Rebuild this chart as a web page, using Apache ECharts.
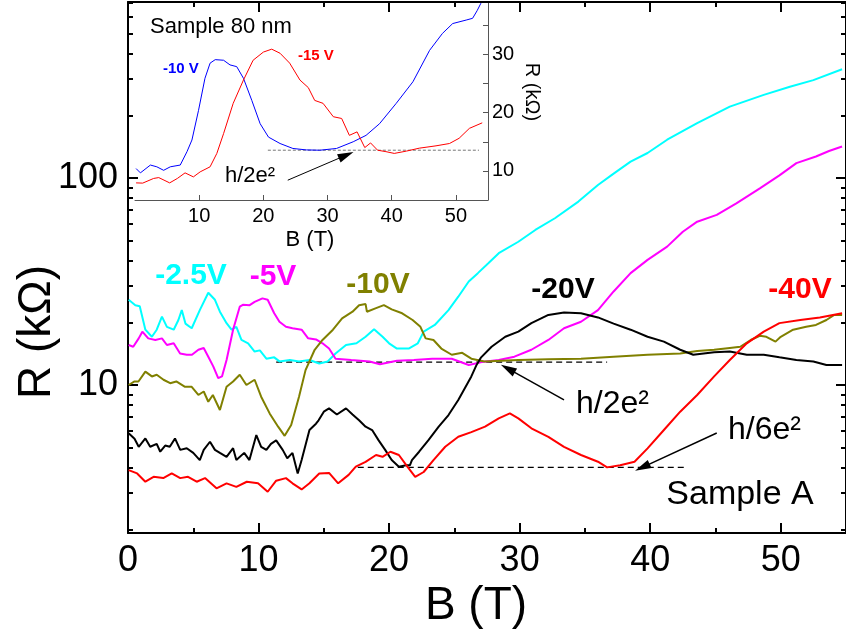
<!DOCTYPE html>
<html><head><meta charset="utf-8">
<script src="https://cdn.jsdelivr.net/npm/echarts@6/dist/echarts.min.js"></script>
<style>html,body{margin:0;padding:0;background:#fff}#c{width:846px;height:638px}</style>
</head><body><div id="c"></div>
<script>
// ---------- main panel (Sample A), B in T, R in kOhm ----------
const cyanData = [[0.05,25.8],[0.56,24.3],[0.9,24],[1.33,18.5],[1.83,17.1],[2.2,18.5],[2.6,21.4],[2.98,19.1],[3.5,18.5],[3.86,20.6],[4.12,23.0],[4.4,19.8],[4.88,18.8],[5.5,23.0],[6.15,27.9],[6.66,25.8],[7.04,22.6],[7.55,19.9],[7.93,18.5],[8.3,19.1],[8.69,16.5],[9.2,15.9],[9.7,14.5],[10.1,14.7],[10.6,13.4],[11.2,13.6],[11.6,13.0],[12.4,13.2],[13.1,13.0],[13.9,13.2],[14.65,12.7],[15.3,13.0],[15.9,14.2],[16.7,15.6],[17.5,15.9],[18.2,17.1],[18.85,18.6],[19.5,17.1],[20.0,15.9],[20.6,15.0],[21.5,15.0],[22.2,15.9],[22.65,18.1],[23.5,19.5],[24.55,23.0],[25.3,26.7],[26.1,31.6],[26.8,34.7],[27.6,38.7],[28.4,43.3],[29.9,49.2],[31.2,56.1],[32.7,63.9],[34.5,76.9],[36.0,92.5],[37.2,105],[38.5,120],[39.8,132],[41.3,153],[43.6,184],[46.1,221],[48.7,252],[50.7,276],[52.5,297],[54.7,335]];
const magentaData = [[0.05,15.6],[0.4,15.3],[0.82,16.8],[1.1,18.1],[1.55,16.8],[2.09,16.5],[2.6,16.8],[2.98,15.6],[3.5,15.9],[3.99,14.2],[4.5,14.0],[4.9,14.0],[5.39,14.8],[5.8,15.1],[6.15,13.7],[6.53,12.3],[6.91,10.8],[7.2,11.0],[7.55,13.2],[8.05,18.5],[8.56,23.9],[8.8,24.4],[9.32,24.3],[9.7,25.2],[10.3,26.2],[10.7,25.8],[11.2,22.2],[11.6,20.2],[12.1,19.1],[12.6,18.8],[13.3,18.5],[13.8,16.8],[14.4,16.6],[14.9,15.9],[15.4,15.0],[15.9,13.4],[17.1,13.2],[18.5,13.0],[19.3,12.6],[20.6,13.1],[21.9,13.2],[23.3,13.4],[24.8,13.4],[26.1,12.5],[27.1,12.9],[28.4,13.2],[29.6,13.7],[30.9,14.8],[32.2,16.5],[33.4,18.8],[34.7,20.2],[36.0,23.0],[37.2,28.3],[38.5,34.7],[39.8,40.2],[41.3,46.6],[42.5,55],[43.6,61.5],[45.1,66.3],[46.6,75.4],[48.4,89.1],[49.9,103],[51.2,118],[52.7,127],[53.7,135],[54.7,142]];
const oliveData = [[0.05,10.0],[0.5,10.4],[0.8,10.4],[1.33,11.6],[1.83,11.0],[2.2,11.2],[2.72,10.6],[3.23,10.2],[3.7,10.4],[4.37,9.8],[4.88,9.8],[5.39,8.95],[5.8,9.3],[6.15,8.3],[6.5,8.95],[7.04,7.57],[7.55,9.8],[8.05,10.4],[8.56,11.2],[9.07,10.0],[9.7,10.6],[10.2,8.78],[10.85,7.29],[11.5,6.29],[12.0,5.68],[12.5,6.41],[13.1,8.78],[13.6,11.8],[14.3,14.8],[14.9,16.5],[15.7,18.5],[16.4,21.0],[17.2,22.6],[17.7,24.3],[18.2,24.6],[18.3,22.6],[19.0,23.5],[19.6,24.3],[20.2,23.2],[21.0,22.2],[21.8,20.6],[22.4,19.1],[22.8,16.8],[23.4,16.5],[24.0,15.0],[24.8,14.0],[25.6,14.3],[26.3,13.4],[27.3,13.0],[28.6,13.1],[29.9,13.2],[32.2,13.3],[34.7,13.4],[37.2,13.7],[39.8,14.0],[42.3,14.2],[43.6,14.6],[44.9,14.8],[46.1,15.1],[46.9,15.3],[47.7,16.5],[48.4,17.3],[48.9,17.1],[49.6,16.2],[50.0,17.1],[50.95,18.5],[51.95,19.1],[52.7,19.5],[53.5,20.6],[54.1,21.8],[54.7,21.8]];
const blackData = [[0.05,5.85],[0.5,5.5],[0.82,5.03],[1.33,5.52],[1.7,5.03],[2.2,5.2],[2.47,4.76],[2.85,5.1],[3.2,5.03],[3.6,5.52],[4.0,4.86],[4.5,4.95],[5.0,4.7],[5.5,4.34],[5.8,4.86],[6.28,5.32],[6.66,4.86],[7.04,4.7],[7.55,4.5],[8.05,4.95],[8.3,4.34],[8.9,4.7],[9.3,4.34],[9.83,5.73],[10.2,5.03],[10.6,4.86],[10.95,5.2],[11.35,5.4],[11.85,4.86],[12.2,4.43],[12.6,4.7],[13.0,3.74],[13.3,4.34],[13.9,6.06],[14.4,6.5],[14.6,6.75],[15.0,7.43],[15.4,7.71],[16.0,7.2],[16.7,7.71],[17.2,7.2],[17.7,6.75],[18.2,6.29],[18.7,6.06],[19.2,5.4],[19.7,4.86],[20.2,4.34],[20.75,4.03],[21.3,4.1],[21.6,4.1],[21.75,4.34],[22.3,4.76],[23.0,5.4],[23.8,6.29],[24.55,7.16],[25.3,8.46],[25.8,9.64],[26.3,11.0],[26.7,12.5],[27.05,13.6],[27.85,15.3],[28.9,17.1],[29.9,18.1],[30.9,19.9],[32.2,21.8],[33.4,22.4],[34.7,22.2],[36.0,21.2],[37.2,19.8],[38.5,18.5],[39.8,17.1],[41.05,16.2],[42.3,14.8],[43.3,14.0],[44.9,14.4],[46.1,14.5],[47.4,14.0],[48.7,14.0],[49.9,13.6],[51.2,13.2],[52.5,13.0],[53.5,12.5],[54.7,12.5]];
const redData = [[0.05,3.88],[0.7,3.74],[1.33,3.41],[1.96,3.6],[2.7,3.55],[3.35,3.74],[4.0,3.55],[4.6,3.6],[5.26,3.41],[5.9,3.55],[6.78,3.17],[7.55,3.35],[8.3,3.22],[9.1,3.41],[9.96,3.35],[10.7,3.05],[11.35,3.45],[12.1,3.55],[12.6,3.35],[13.3,3.13],[13.9,3.35],[14.65,3.74],[15.4,3.76],[16.1,3.35],[16.9,3.68],[17.45,4.03],[18.2,4.25],[19.0,4.59],[19.5,4.5],[20.1,4.76],[20.75,4.59],[21.4,4.03],[22.0,3.6],[22.65,3.8],[23.4,4.34],[24.3,5.03],[25.3,5.62],[26.3,5.92],[27.35,6.29],[28.4,6.9],[29.25,7.29],[29.9,6.9],[30.9,6.18],[32.2,5.62],[33.4,5.03],[34.7,4.59],[36.0,4.26],[36.7,4.0],[37.7,4.1],[38.8,4.26],[39.8,4.94],[41.05,6.06],[42.3,7.43],[43.6,8.95],[44.9,11.0],[46.1,13.2],[47.4,15.9],[48.7,18.1],[49.9,19.9],[51.5,20.6],[53.0,21.2],[54.7,22.2]];
const quantum2Line = [[11.35,12.9],[36.7,12.9]];   // h/2e^2 dashed guide
const quantum6Line = [[17.6,4.0],[42.7,4.0]];      // h/6e^2 dashed guide
const arrow2 = [[33.4,8.47],[29.1,12.0]];
const arrow6 = [[45.1,5.86],[39.4,4.0]];
const mainXTicks = [0,10,20,30,40,50];
const mainXMinor = [5,15,25,35,45];
const mainYTicks = [10,100];
const mainYMinor = [2,3,4,5,6,7,8,9,20,30,40,50,60,70,80,90,200,300,400,500,600,700];

// ---------- inset (Sample 80 nm), linear R ----------
const insetBlue = [[0.17,10.4],[0.84,9.66],[2.4,11.0],[3.4,10.7],[4.46,10.1],[5.5,10.7],[7.05,11.0],[8.1,13.3],[8.87,15.3],[9.9,20.4],[10.9,25.9],[11.7,28.5],[12.5,29.1],[13.8,29.0],[14.8,28.2],[15.85,27.9],[16.9,25.9],[18.2,22.1],[19.5,18.1],[20.8,15.8],[22.6,14.7],[24.6,13.85],[26.7,13.6],[28.8,13.55],[31.4,13.85],[34.0,15.0],[36.0,16.1],[38.1,18.1],[40.7,21.6],[43.3,25.3],[45.9,30.7],[47.9,33.6],[49.5,35.3],[51.6,35.9],[52.6,36.2],[53.3,37.5],[53.9,38.8]];
const insetRed = [[0.17,7.94],[1.2,7.9],[2.9,8.7],[3.7,8.85],[5.4,7.94],[6.6,8.7],[7.8,9.66],[9.1,8.97],[10.15,9.83],[11.7,10.7],[12.75,13.0],[13.8,16.4],[15.3,21.6],[16.9,25.6],[18.4,29.0],[20.0,30.4],[21.3,30.9],[22.6,30.2],[24.1,28.5],[25.7,25.6],[27.0,24.3],[28.0,22.1],[29.3,21.6],[30.9,19.3],[32.2,19.0],[33.4,16.1],[34.6,16.7],[35.8,14.0],[36.7,14.8],[37.8,13.55],[39.1,13.3],[40.4,13.0],[42.3,13.4],[44.3,13.9],[46.9,14.3],[49.0,14.7],[50.5,15.6],[52.1,17.3],[54.1,18.25]];
const insetGuide = [[20.7,13.55],[53.6,13.55]];
const insetArrow = [[23.8,8.4],[32.9,12.7]];
const insetXTicks = [10,20,30,40,50];
const insetYTicks = [10,15,20,25,30,35];
const insetYLabels = [10,20,30];

const FONT = '"Liberation Sans", Arial, Helvetica, sans-serif';
const BLACK = '#000';

function xAx(grid, pos, ticks, len, showLine, labels, extra) {
  return Object.assign({
    type: 'value', gridIndex: grid, position: pos, min: 0, max: 55,
    axisLine: { show: showLine, onZero: false, lineStyle: { color: BLACK, width: 2 } },
    axisTick: { show: true, inside: true, length: len, customValues: ticks, lineStyle: { color: BLACK, width: 2 } },
    axisLabel: labels ? { show: true, customValues: labels, fontSize: 36, color: BLACK, fontFamily: FONT, margin: 10 } : { show: false },
    splitLine: { show: false }
  }, extra || {});
}
function yAx(pos, ticks, len, showLine, labels) {
  return {
    type: 'log', gridIndex: 0, position: pos, min: 1.928, max: 708, logBase: 10,
    axisLine: { show: showLine, onZero: false, lineStyle: { color: BLACK, width: 2 } },
    axisTick: { show: true, inside: true, length: len, customValues: ticks, lineStyle: { color: BLACK, width: 2 } },
    axisLabel: labels ? { show: true, customValues: labels, fontSize: 36, color: BLACK, fontFamily: FONT, margin: 10 } : { show: false },
    splitLine: { show: false }, minorTick: { show: false }
  };
}

function mainLine(data, color) {
  return { type: 'line', xAxisIndex: 0, yAxisIndex: 0, data: data, showSymbol: false, symbol: 'none',
    lineStyle: { color: color, width: 2 }, silent: true, z: 3 };
}
function dashed(data, xi, yi, color, w, dash) {
  return { type: 'line', xAxisIndex: xi, yAxisIndex: yi, data: data, showSymbol: false, symbol: 'none', silent: true,
    lineStyle: { color: color, width: w, type: dash } , z: 2};
}
function arrowML(pairs, w) {
  return { silent: true, symbol: ['none', 'triangle'], symbolSize: [9, 16], animation: false,
    label: { show: false }, lineStyle: { color: BLACK, width: w, type: 'solid' },
    data: pairs.map(p => [{ coord: p[0] }, { coord: p[1] }]) };
}

const option = {
  animation: false,
  backgroundColor: '#fff',
  grid: [
    { left: 128, right: -4, top: 2, bottom: 105 },
    { left: 135, right: 358, top: 2, bottom: 438 }
  ],
  xAxis: [
    xAx(0, 'bottom', mainXTicks, 10, true, mainXTicks),
    xAx(0, 'bottom', mainXMinor, 5, false, null),
    xAx(0, 'top', mainXTicks, 10, true, null),
    xAx(0, 'top', mainXMinor, 5, false, null),
    {
      type: 'value', gridIndex: 1, position: 'bottom', min: 0, max: 55,
      axisLine: { show: true, onZero: false, lineStyle: { color: '#555', width: 1 } },
      axisTick: { show: true, inside: true, length: 5, customValues: insetXTicks, lineStyle: { color: '#555', width: 1 } },
      axisLabel: { show: true, customValues: insetXTicks, fontSize: 20, color: BLACK, fontFamily: FONT, margin: 6 },
      splitLine: { show: false }
    }
  ],
  yAxis: [
    yAx('left', mainYTicks, 10, true, mainYTicks),
    yAx('left', mainYMinor, 5, false, null),
    yAx('right', mainYTicks, 10, true, null),
    yAx('right', mainYMinor, 5, false, null),
    {
      type: 'value', gridIndex: 1, position: 'right', min: 5, max: 39,
      axisLine: { show: true, onZero: false, lineStyle: { color: '#555', width: 1 } },
      axisTick: { show: true, inside: true, length: 5, customValues: insetYTicks, lineStyle: { color: '#555', width: 1 } },
      axisLabel: { show: true, customValues: insetYLabels, fontSize: 20, color: BLACK, fontFamily: FONT, margin: 4 },
      splitLine: { show: false }
    }
  ],
  series: [
    dashed(quantum2Line, 0, 0, BLACK, 1.2, [6, 4]),
    dashed(quantum6Line, 0, 0, BLACK, 1.2, [6, 4]),
    mainLine(cyanData, '#00ffff'),
    mainLine(magentaData, '#ff00ff'),
    mainLine(oliveData, '#808000'),
    Object.assign(mainLine(blackData, '#000000'), { markLine: arrowML([arrow2, arrow6], 1.5) }),
    mainLine(redData, '#ff0000'),
    dashed(insetGuide, 4, 4, '#777', 1, [3, 2]),
    { type: 'line', xAxisIndex: 4, yAxisIndex: 4, data: insetBlue, showSymbol: false, symbol: 'none', silent: true,
      lineStyle: { color: '#0000ff', width: 1 }, markLine: arrowML([insetArrow], 1) },
    { type: 'line', xAxisIndex: 4, yAxisIndex: 4, data: insetRed, showSymbol: false, symbol: 'none', silent: true,
      lineStyle: { color: '#ff0000', width: 1 } }
  ],
  graphic: [
    { type: 'text', x: 37, y: 332, rotation: Math.PI / 2, style: { text: 'R (kΩ)', font: '46px ' + FONT, fill: BLACK, align: 'center', verticalAlign: 'middle' } },
    { type: 'text', x: 476, y: 606, style: { text: 'B (T)', font: '46px ' + FONT, fill: BLACK, align: 'center', verticalAlign: 'middle' } },
    { type: 'text', x: 191, y: 276, style: { text: '-2.5V', font: 'bold 30px ' + FONT, fill: '#00ffff', align: 'center', verticalAlign: 'middle' } },
    { type: 'text', x: 273, y: 277, style: { text: '-5V', font: 'bold 30px ' + FONT, fill: '#ff00ff', align: 'center', verticalAlign: 'middle' } },
    { type: 'text', x: 378, y: 285, style: { text: '-10V', font: 'bold 30px ' + FONT, fill: '#808000', align: 'center', verticalAlign: 'middle' } },
    { type: 'text', x: 563, y: 290, style: { text: '-20V', font: 'bold 30px ' + FONT, fill: BLACK, align: 'center', verticalAlign: 'middle' } },
    { type: 'text', x: 800, y: 290, style: { text: '-40V', font: 'bold 30px ' + FONT, fill: '#ff0000', align: 'center', verticalAlign: 'middle' } },
    { type: 'text', x: 576, y: 404, style: { text: 'h/2e²', font: '32px ' + FONT, fill: BLACK, align: 'left', verticalAlign: 'middle' } },
    { type: 'text', x: 728, y: 430, style: { text: 'h/6e²', font: '32px ' + FONT, fill: BLACK, align: 'left', verticalAlign: 'middle' } },
    { type: 'text', x: 740, y: 495, style: { text: 'Sample A', font: '34px ' + FONT, fill: BLACK, align: 'center', verticalAlign: 'middle' } },
    { type: 'text', x: 150, y: 27, style: { text: 'Sample 80 nm', font: '22px ' + FONT, fill: BLACK, align: 'left', verticalAlign: 'middle' } },
    { type: 'text', x: 163, y: 69, style: { text: '-10 V', font: 'bold 15px ' + FONT, fill: '#0000ff', align: 'left', verticalAlign: 'middle' } },
    { type: 'text', x: 298, y: 56, style: { text: '-15 V', font: 'bold 15px ' + FONT, fill: '#ff0000', align: 'left', verticalAlign: 'middle' } },
    { type: 'text', x: 225, y: 176, style: { text: 'h/2e²', font: '22px ' + FONT, fill: BLACK, align: 'left', verticalAlign: 'middle' } },
    { type: 'text', x: 310, y: 240, style: { text: 'B (T)', font: '22px ' + FONT, fill: BLACK, align: 'center', verticalAlign: 'middle' } },
    { type: 'text', x: 532, y: 92, rotation: -Math.PI / 2, style: { text: 'R (kΩ)', font: '20px ' + FONT, fill: BLACK, align: 'center', verticalAlign: 'middle' } }
  ]
};
const chart = echarts.init(document.getElementById('c'), null, { renderer: 'canvas' });
chart.setOption(option);
</script></body></html>
